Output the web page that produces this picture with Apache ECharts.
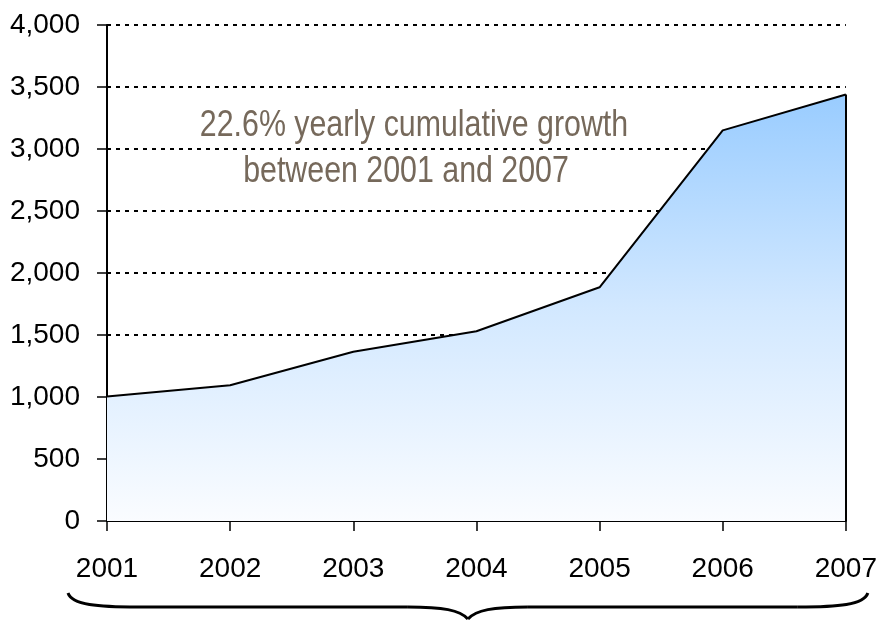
<!DOCTYPE html>
<html>
<head>
<meta charset="utf-8">
<script src="https://cdn.jsdelivr.net/npm/echarts@6/dist/echarts.min.js"></script>
<style>
html,body{margin:0;padding:0;background:#fff;}
#chart{width:880px;height:621px;}
</style>
</head>
<body>
<div id="chart"></div>
<script>
const years = ['2001','2002','2003','2004','2005','2006','2007'];
const values = [1005, 1095, 1365, 1530, 1885, 3150, 3440];
const yTicks = { min: 0, max: 4000, interval: 500 };
const noteLines = ['22.6% yearly cumulative growth', 'between 2001 and 2007'];

const FONT = '"Liberation Sans Narrow", "Arial Narrow", "Liberation Sans", Arial, sans-serif';
const chart = echarts.init(document.getElementById('chart'));
const last = values.length - 1;

chart.setOption({
  backgroundColor: '#ffffff',
  animation: false,
  grid: { left: 107, right: 32, top: 25, bottom: 100 },
  xAxis: {
    type: 'category',
    data: years,
    boundaryGap: false,
    axisLine: { lineStyle: { color: '#000', width: 2 } },
    axisTick: { show: true, length: 10, lineStyle: { color: '#000', width: 1.5 }, alignWithLabel: true },
    axisLabel: { color: '#000', fontFamily: FONT, fontSize: 28, margin: 34 },
    splitLine: { show: false }
  },
  yAxis: {
    type: 'value',
    min: yTicks.min, max: yTicks.max, interval: yTicks.interval,
    axisLine: { show: true, lineStyle: { color: '#000', width: 2 } },
    axisTick: { show: true, length: 10, lineStyle: { color: '#000', width: 1.5 } },
    axisLabel: {
      color: '#000', fontFamily: FONT, fontSize: 28, margin: 27,
      formatter: v => v.toLocaleString('en-US')
    },
    splitLine: { show: true, lineStyle: { color: '#000', width: 2, type: [4, 5] } }
  },
  series: [{
    type: 'line',
    data: values,
    symbol: 'none',
    lineStyle: { color: '#000', width: 2 },
    areaStyle: {
      opacity: 1,
      color: new echarts.graphic.LinearGradient(0, 0, 0, 1, [
        { offset: 0, color: '#99ccff' },
        { offset: 0.5, color: '#d2e8ff' },
        { offset: 1, color: '#fafcff' }
      ])
    },
    markLine: {
      silent: true,
      symbol: 'none',
      label: { show: false },
      lineStyle: { color: '#000', width: 2, type: 'solid' },
      data: [[
        { coord: [years[last], 0] },
        { coord: [years[last], values[last]] }
      ]]
    },
    z: 3
  }]
});

// Annotation and brace positioned relative to axis pixels
const p0 = chart.convertToPixel({ gridIndex: 0 }, [years[0], 0]);
const pN = chart.convertToPixel({ gridIndex: 0 }, [years[last], 0]);
const bx0 = p0[0] - 39, bx1 = pN[0] + 22;
const bm = (bx0 + bx1) / 2;
const by0 = 593, byL = 607, byP = 619;
const braceStyle = { stroke: '#000', lineWidth: 3, fill: null };

chart.setOption({
  graphic: [
    {
      type: 'text', x: 414, y: 126, z: 10, scaleX: 0.82,
      style: { text: noteLines[0], fill: '#76695b', font: '37px ' + FONT, textAlign: 'center', textVerticalAlign: 'middle' }
    },
    {
      type: 'text', x: 406, y: 172, z: 10, scaleX: 0.82,
      style: { text: noteLines[1], fill: '#76695b', font: '37px ' + FONT, textAlign: 'center', textVerticalAlign: 'middle' }
    },
    { type: 'bezierCurve', z: 10, silent: true, style: braceStyle,
      shape: { x1: bx0, y1: by0, cpx1: bx0 + 4, cpy1: byL - 2, cpx2: bx0 + 30, cpy2: byL, x2: bx0 + 70, y2: byL } },
    { type: 'line', z: 10, silent: true, style: braceStyle,
      shape: { x1: bx0 + 70, y1: byL, x2: bm - 60, y2: byL } },
    { type: 'bezierCurve', z: 10, silent: true, style: braceStyle,
      shape: { x1: bm - 60, y1: byL, cpx1: bm - 25, cpy1: byL, cpx2: bm - 8, cpy2: byL + 3, x2: bm, y2: byP } },
    { type: 'bezierCurve', z: 10, silent: true, style: braceStyle,
      shape: { x1: bm, y1: byP, cpx1: bm + 8, cpy1: byL + 3, cpx2: bm + 25, cpy2: byL, x2: bm + 60, y2: byL } },
    { type: 'line', z: 10, silent: true, style: braceStyle,
      shape: { x1: bm + 60, y1: byL, x2: bx1 - 70, y2: byL } },
    { type: 'bezierCurve', z: 10, silent: true, style: braceStyle,
      shape: { x1: bx1 - 70, y1: byL, cpx1: bx1 - 30, cpy1: byL, cpx2: bx1 - 4, cpy2: byL - 2, x2: bx1, y2: by0 } }
  ]
});
</script>
</body>
</html>
